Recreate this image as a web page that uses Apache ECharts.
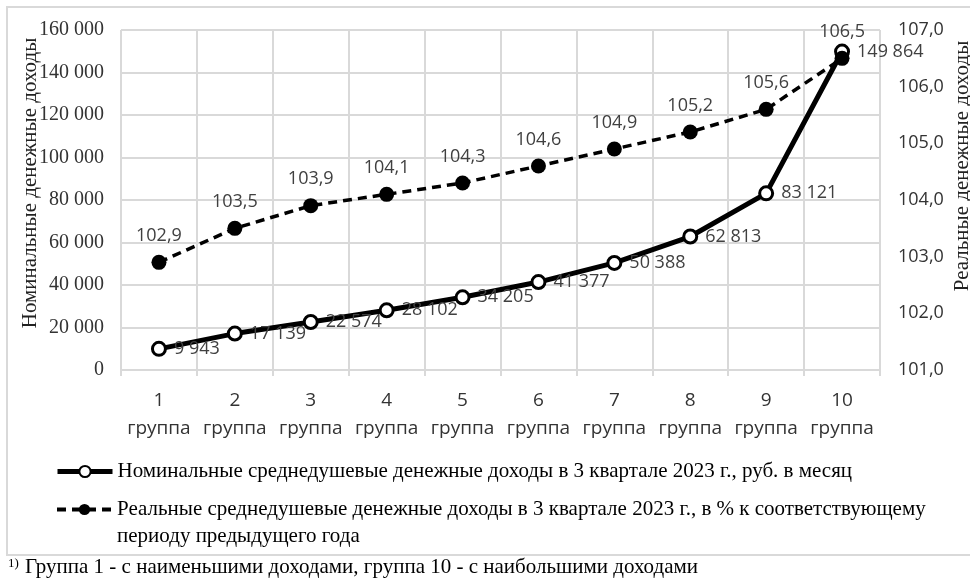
<!DOCTYPE html>
<html>
<head>
<meta charset="utf-8">
<script src="https://cdn.jsdelivr.net/npm/echarts@6/dist/echarts.min.js"></script>
<style>
  html, body { margin: 0; padding: 0; background: #fff; }
  #container { width: 970px; height: 584px; }
</style>
</head>
<body>
<div id="container"></div>
<script>
var myChart = echarts.init(document.getElementById('container'));

// data
var groups = ['1', '2', '3', '4', '5', '6', '7', '8', '9', '10'];
var nominal = [9943, 17139, 22574, 28102, 34205, 41377, 50388, 62813, 83121, 149864];
var real = [102.9, 103.5, 103.9, 104.1, 104.3, 104.6, 104.9, 105.2, 105.6, 106.5];

var nameNominal = 'Номинальные среднедушевые денежные доходы в 3 квартале 2023 г., руб. в месяц';
var nameReal = 'Реальные среднедушевые денежные доходы в 3 квартале 2023 г., в % к соответствующему';

function spaced(v) {
  return String(v).replace(/\B(?=(\d{3})+(?!\d))/g, ' ');
}
function comma(v) {
  return Number(v).toFixed(1).replace('.', ',');
}

var serif = '"Liberation Serif", "DejaVu Serif", serif';
var sans = '"Open Sans", "Liberation Sans", sans-serif';

var option = {
  backgroundColor: '#fff',
  animation: false,
  grid: { left: 121, right: 90, top: 30, bottom: 214 },
  legend: [
    {
      data: [nameNominal],
      left: 55, top: 461, padding: 0,
      itemWidth: 55, itemHeight: 14,
      itemGap: 4,
      lineStyle: { width: 5, color: '#000' },
      textStyle: { fontFamily: serif, fontSize: 21, color: '#000' }
    },
    {
      data: [nameReal],
      left: 55, top: 499, padding: 0,
      itemWidth: 55, itemHeight: 14,
      itemGap: 4,
      lineStyle: { width: 4, color: '#000', type: [9, 6] },
      textStyle: { fontFamily: serif, fontSize: 21, color: '#000' }
    }
  ],
  graphic: [
    {
      type: 'rect', silent: true, z: -1,
      shape: { x: 7, y: 7, width: 975, height: 548 },
      style: { fill: 'none', stroke: '#d9d9d9', lineWidth: 2 }
    },
    {
      type: 'text', left: 117, top: 526,
      style: { text: 'периоду предыдущего года', font: '21px ' + serif, fill: '#000' }
    },
    {
      type: 'text', left: 8, top: 557,
      style: { text: '1)', font: '13px ' + serif, fill: '#000' }
    },
    {
      type: 'text', left: 25, top: 557,
      style: { text: 'Группа 1 - с наименьшими доходами, группа 10 - с наибольшими доходами', font: '21px ' + serif, fill: '#000' }
    },
    {
      type: 'text', x: 30, y: 183, rotation: Math.PI / 2,
      style: { text: 'Номинальные денежные доходы', font: '21px ' + serif, fill: '#222', align: 'center', verticalAlign: 'middle' }
    },
    {
      type: 'text', x: 962, y: 166, rotation: Math.PI / 2,
      style: { text: 'Реальные денежные доходы', font: '21px ' + serif, fill: '#222', align: 'center', verticalAlign: 'middle' }
    }
  ],
  xAxis: {
    type: 'category',
    data: groups,
    boundaryGap: true,
    axisLine: { show: true, lineStyle: { color: '#d9d9d9', width: 2 } },
    axisTick: { show: true, interval: 0, length: 6, lineStyle: { color: '#d9d9d9', width: 2 } },
    splitLine: { show: true, interval: 0, lineStyle: { color: '#d9d9d9', width: 2 } },
    axisLabel: {
      interval: 0,
      margin: 17,
      fontFamily: sans, fontSize: 19, color: '#333', lineHeight: 28,
      formatter: function (v) { return v + '\nгруппа'; }
    }
  },
  yAxis: [
    {
      type: 'value',
      min: 0, max: 160000, interval: 20000,
      axisLine: { show: false },
      axisTick: { show: false },
      splitLine: { show: true, lineStyle: { color: '#d9d9d9', width: 2 } },
      axisLabel: {
        margin: 17,
        fontFamily: serif, fontSize: 20, color: '#333',
        formatter: function (v) { return spaced(v); }
      }
    },
    {
      type: 'value',
      min: 101, max: 107, interval: 1,
      axisLine: { show: false },
      axisTick: { show: false },
      splitLine: { show: false },
      axisLabel: {
        margin: 18,
        fontFamily: sans, fontSize: 18, color: '#333',
        formatter: function (v) { return comma(v); }
      }
    }
  ],
  series: [
    {
      name: nameNominal,
      type: 'line',
      yAxisIndex: 0,
      data: nominal,
      symbol: 'circle',
      symbolSize: 13,
      itemStyle: { color: '#fff', borderColor: '#000', borderWidth: 3 },
      lineStyle: { color: '#000', width: 5 },
      label: {
        show: true, position: 'right', distance: 7,
        fontFamily: sans, fontSize: 18, color: '#404040',
        formatter: function (p) { return spaced(p.value); }
      },
      z: 2
    },
    {
      name: nameReal,
      type: 'line',
      yAxisIndex: 1,
      data: real,
      symbol: 'circle',
      symbolSize: 15,
      itemStyle: { color: '#000' },
      lineStyle: { color: '#000', width: 3.5, type: [9, 6] },
      label: {
        show: true, position: 'top', distance: 10,
        fontFamily: sans, fontSize: 18, color: '#404040',
        formatter: function (p) { return comma(p.value); }
      },
      z: 3
    }
  ]
};

myChart.setOption(option);
</script>
</body>
</html>
